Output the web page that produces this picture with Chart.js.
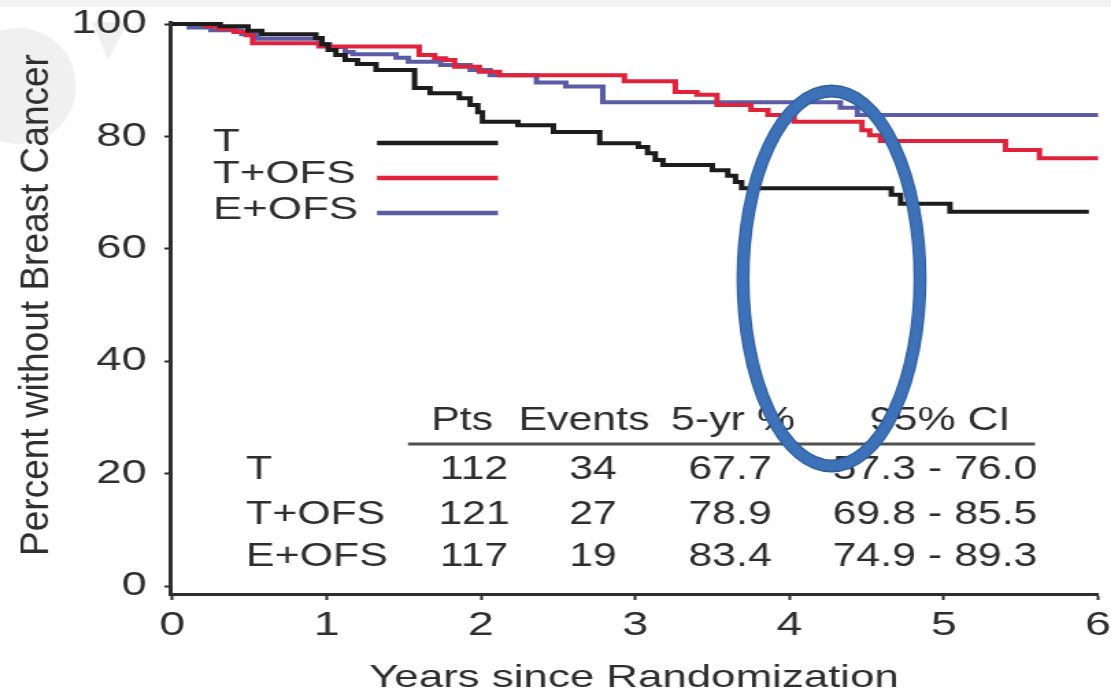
<!DOCTYPE html>
<html>
<head>
<meta charset="utf-8">
<title>Percent without Breast Cancer</title>
<script src="https://cdn.jsdelivr.net/npm/chart.js@4.4.1/dist/chart.umd.min.js"></script>
<style>
  html, body { margin: 0; padding: 0; background: #ffffff; width: 1111px; height: 693px; overflow: hidden; }
  /* the figure is laid out narrow and widened horizontally */
  #wrap { position: absolute; left: 0; top: 0; width: 811px; height: 693px; transform: scaleX(1.37); transform-origin: 0 0; }
</style>
</head>
<body>
<div id="wrap"><canvas id="km" width="811" height="693"></canvas></div>
<script>
const STRETCH = 1.37;

// Kaplan-Meier curves: time (years) of each step and the survival level after it
const yearsT = [0, 0.31, 0.49, 0.58, 0.93, 0.97, 1.01, 1.06, 1.12, 1.20, 1.32, 1.57, 1.67, 1.86, 1.93, 1.98, 2.01, 2.24, 2.47, 2.77, 3.02, 3.08, 3.13, 3.18, 3.50, 3.60, 3.65, 3.69, 4.66, 4.72, 5.04, 5.94];
const pctT   = [100, 99.6, 98.8, 98.2, 97.5, 96.4, 95.4, 94.5, 93.6, 92.9, 91.8, 88.6, 87.7, 86.8, 85.6, 84.3, 82.6, 82.0, 80.8, 78.8, 78.1, 77.0, 75.8, 74.9, 74.0, 73.0, 71.9, 70.8, 69.6, 68.0, 66.6, 66.6];

const yearsTOFS = [0, 0.22, 0.30, 0.40, 0.48, 0.52, 0.95, 1.60, 1.70, 1.77, 1.83, 1.99, 2.12, 2.93, 3.26, 3.40, 3.53, 3.75, 3.86, 4.03, 4.47, 4.52, 4.59, 5.40, 5.62, 6.0];
const pctTOFS   = [100, 99.6, 99.1, 98.6, 98.0, 96.6, 96.0, 94.5, 93.9, 93.6, 92.4, 91.5, 90.9, 89.8, 87.9, 87.4, 85.6, 84.7, 83.8, 82.6, 81.1, 80.2, 79.2, 77.6, 76.1, 76.1];

const yearsEOFS = [0, 0.11, 0.25, 0.45, 0.55, 0.95, 1.02, 1.12, 1.17, 1.45, 1.53, 1.74, 1.93, 2.06, 2.36, 2.55, 2.79, 4.33, 4.44, 6.0];
const pctEOFS   = [100, 99.4, 98.9, 98.2, 97.4, 96.4, 95.9, 95.0, 94.6, 94.0, 93.3, 92.7, 91.8, 90.9, 89.6, 88.9, 86.1, 85.1, 83.8, 83.8];

// axis ticks and titles
const xTicks = [0, 1, 2, 3, 4, 5, 6];
const yTicks = [0, 20, 40, 60, 80, 100];
const xTitleText = 'Years since Randomization';
const yTitleText = 'Percent without Breast Cancer';

// summary table
const armNames    = ['T', 'T+OFS', 'E+OFS'];
const tableHeader = ['Pts', 'Events', '5-yr %', '95% CI'];
const patients    = ['112', '121', '117'];
const events      = ['34', '27', '19'];
const fiveYear    = ['67.7', '78.9', '83.4'];
const ci95        = ['57.3 - 76.0', '69.8 - 85.5', '74.9 - 89.3'];

const armColors = ['#1c1c1c', '#e0223a', '#5a5ca8'];
const INK = '#2e2e2e';
const FONT = "'Liberation Sans', Arial, sans-serif";

const toPoints = (xs, ys) => xs.map((x, i) => ({ x: x, y: ys[i] }));
const sx = v => v / STRETCH;   // horizontal position in layout units

Chart.defaults.font.family = FONT;
Chart.defaults.color = INK;

const backdrop = {
  id: 'backdrop',
  beforeDraw(chart) {
    const ctx = chart.ctx;
    ctx.save();
    ctx.fillStyle = '#ffffff';
    ctx.fillRect(0, 0, chart.width, chart.height);
    ctx.fillStyle = '#f3f3f3';
    ctx.fillRect(0, 0, chart.width, 7);
    ctx.scale(1 / STRETCH, 1);
    ctx.fillStyle = '#f0f0f0';
    ctx.beginPath();
    ctx.arc(18, 86, 58, 0, Math.PI * 2);
    ctx.fill();
    ctx.beginPath();
    ctx.moveTo(92, 22); ctx.lineTo(128, 22); ctx.lineTo(108, 60);
    ctx.closePath();
    ctx.fill();
    ctx.restore();
  }
};

// vertical axis title, drawn with upright (unwidened) glyph proportions
const verticalTitle = {
  id: 'verticalTitle',
  afterDatasetsDraw(chart) {
    const ctx = chart.ctx;
    const area = chart.chartArea;
    ctx.save();
    ctx.scale(1 / STRETCH, 1);
    ctx.translate(37, (area.top + area.bottom) / 2 - 3);
    ctx.rotate(-Math.PI / 2);
    ctx.scale(1, 1.1);
    ctx.font = '37px ' + FONT;
    ctx.fillStyle = INK;
    ctx.textAlign = 'center';
    ctx.textBaseline = 'middle';
    ctx.fillText(yTitleText, 0, 0);
    ctx.restore();
  }
};

const sideLegend = {
  id: 'sideLegend',
  afterDatasetsDraw(chart) {
    const ctx = chart.ctx;
    const textY = [142, 174, 210];
    const lineY = [143, 178, 213];
    ctx.save();
    ctx.font = '32px ' + FONT;
    ctx.textAlign = 'left';
    ctx.textBaseline = 'middle';
    chart.data.datasets.forEach((ds, i) => {
      ctx.fillStyle = INK;
      ctx.fillText(ds.label, sx(213), textY[i]);
      ctx.strokeStyle = ds.borderColor;
      ctx.lineWidth = 4.5;
      ctx.beginPath();
      ctx.moveTo(sx(377), lineY[i]);
      ctx.lineTo(sx(498), lineY[i]);
      ctx.stroke();
    });
    ctx.restore();
  }
};

const summaryTable = {
  id: 'summaryTable',
  afterDatasetsDraw(chart) {
    const ctx = chart.ctx;
    const headCx = [462, 584, 733, 940];
    const cellCx = [474, 593, 730, 935];
    const rowY = [470, 515, 557];
    const columns = [patients, events, fiveYear, ci95];
    const squeeze = 0.92;
    const put = (text, x, y, align) => {
      ctx.save();
      ctx.translate(sx(x), y);
      ctx.scale(squeeze, 1);
      ctx.textAlign = align;
      ctx.fillText(text, 0, 0);
      ctx.restore();
    };
    ctx.save();
    ctx.font = '34px ' + FONT;
    ctx.fillStyle = INK;
    ctx.textBaseline = 'middle';
    tableHeader.forEach((h, j) => put(h, headCx[j], 421, 'center'));
    ctx.strokeStyle = '#505050';
    ctx.lineWidth = 3;
    ctx.beginPath();
    ctx.moveTo(sx(408), 444);
    ctx.lineTo(sx(1035), 444);
    ctx.stroke();
    armNames.forEach((name, i) => {
      put(name, 246, rowY[i], 'left');
      columns.forEach((col, j) => put(col[i], cellCx[j], rowY[i], 'center'));
    });
    ctx.restore();
  }
};

const highlight = {
  id: 'highlight',
  afterDraw(chart) {
    const ctx = chart.ctx;
    ctx.save();
    ctx.scale(1 / STRETCH, 1);
    ctx.beginPath();
    ctx.ellipse(831.5, 278.5, 88.5, 187.5, 0, 0, Math.PI * 2);
    ctx.lineWidth = 13;
    ctx.strokeStyle = '#2f5f9f';
    ctx.stroke();
    ctx.lineWidth = 10;
    ctx.strokeStyle = '#3d72b8';
    ctx.stroke();
    ctx.restore();
  }
};

const stepLine = (label, xs, ys, color) => ({
  label: label,
  data: toPoints(xs, ys),
  borderColor: color,
  backgroundColor: color,
  borderWidth: 4,
  stepped: true,
  pointRadius: 0,
  fill: false,
  clip: false
});

new Chart(document.getElementById('km'), {
  type: 'line',
  data: {
    datasets: [
      stepLine(armNames[0], yearsT, pctT, armColors[0]),
      stepLine(armNames[1], yearsTOFS, pctTOFS, armColors[1]),
      stepLine(armNames[2], yearsEOFS, pctEOFS, armColors[2])
    ]
  },
  options: {
    responsive: false,
    animation: false,
    devicePixelRatio: 1,
    layout: { padding: { left: 0, top: 22, right: 9.5, bottom: 0 } },
    plugins: { legend: { display: false }, tooltip: { enabled: false } },
    scales: {
      x: {
        type: 'linear',
        min: -0.016,
        max: 6.0,
        afterBuildTicks: s => { s.ticks = xTicks.map(v => ({ value: v })); },
        afterFit: s => { s.height = 99; s.paddingLeft = 0; s.paddingRight = 0; },
        border: { display: true, color: INK, width: 3 },
        grid: { drawOnChartArea: false, drawTicks: true, tickLength: 6, tickWidth: 2, tickColor: INK },
        ticks: { color: INK, font: { size: 34 }, padding: 5, maxRotation: 0, autoSkip: false },
        title: { display: true, text: xTitleText, color: INK, font: { size: 32, lineHeight: 0.9 }, padding: { top: 0, bottom: 0 } }
      },
      y: {
        type: 'linear',
        min: -1.42,
        max: 100.36,
        afterBuildTicks: s => { s.ticks = yTicks.map(v => ({ value: v })); },
        afterFit: s => { s.width = 124; s.paddingTop = 0; s.paddingBottom = 0; },
        border: { display: true, color: INK, width: 3 },
        grid: { drawOnChartArea: false, drawTicks: true, tickLength: 4, tickWidth: 2, tickColor: INK },
        ticks: { color: INK, font: { size: 33 }, padding: 13 },
        title: { display: false }
      }
    }
  },
  plugins: [backdrop, verticalTitle, sideLegend, summaryTable, highlight]
});
</script>
</body>
</html>
